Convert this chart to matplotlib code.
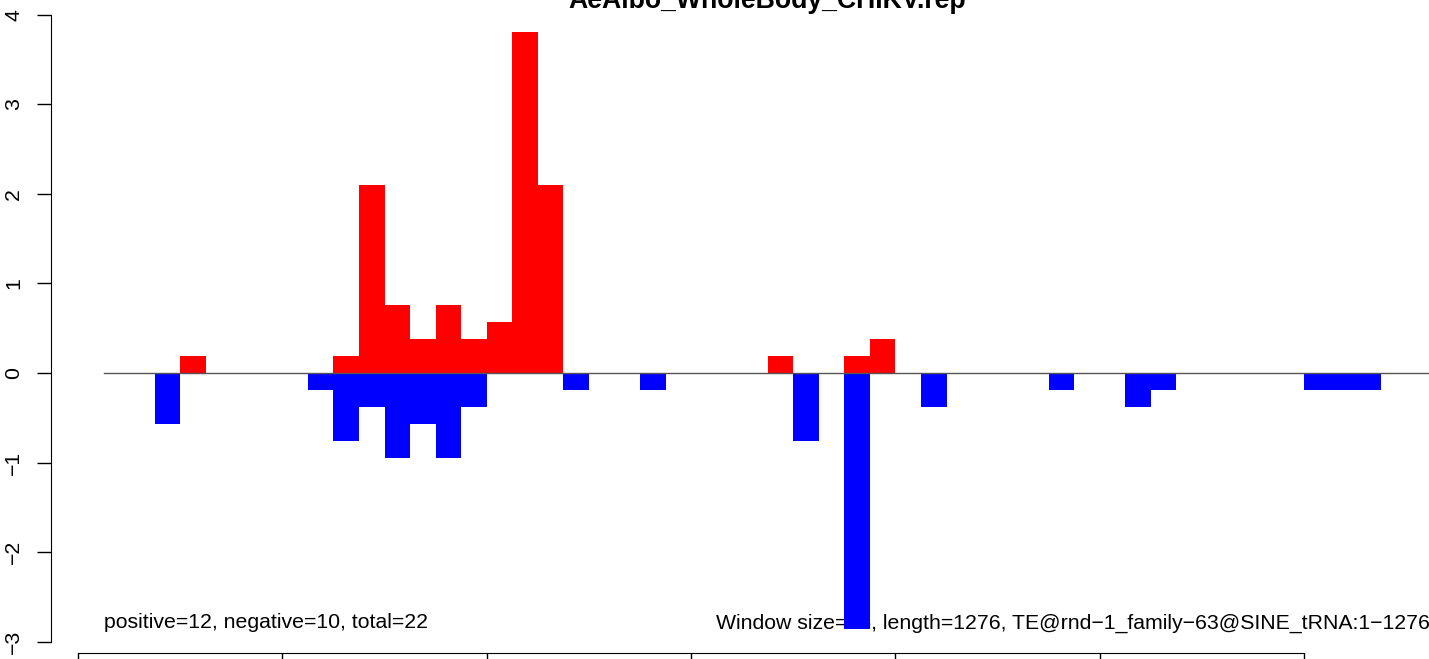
import numpy as np
import matplotlib
matplotlib.use('Agg')
import matplotlib.pyplot as plt

plt.rcParams['font.family'] = ['Liberation Sans', 'DejaVu Sans']

title = "AeAlbo_WholeBody_CHIKV.rep"
window = 25

# window start (bp) and value
red_start = [100, 250, 275, 300, 325, 350, 375, 400, 425, 450, 675, 750, 775]
red_val = [0.19, 0.19, 2.10, 0.76, 0.38, 0.76, 0.38, 0.57, 3.81, 2.10, 0.19, 0.19, 0.38]

blue_start = [75, 225, 250, 275, 300, 325, 350, 375, 475, 550, 700, 750, 825,
              950, 1025, 1050, 1200, 1225, 1250]
blue_val = [-0.57, -0.19, -0.76, -0.38, -0.95, -0.57, -0.95, -0.38, -0.19, -0.19,
            -0.76, -2.86, -0.38, -0.19, -0.38, -0.19, -0.19, -0.19, -0.19]

yticks = [-3, -2, -1, 0, 1, 2, 3, 4]
xticks = [0, 200, 400, 600, 800, 1000, 1200]

left_txt = "positive=12, negative=10, total=22"
right_txt = "Window size=25, length=1276, TE@rnd\u22121_family\u221263@SINE_tRNA:1\u22121276"

fs = 15.3

W, H = 1429, 659
fig = plt.figure(figsize=(W / 100, H / 100), dpi=100)

# plot region in pixels (runs past the right/top edge like the original)
px_l, px_r, px_t, px_b = 51, 1483, -20, 653
ax = fig.add_axes([px_l / W, (H - px_b) / H, (px_r - px_l) / W, (px_b - px_t) / H])
ax.set_xlim(-26.4, 1375)
ax.set_ylim(-3.126, 4.388)

ax.text(25, -2.79, left_txt, fontsize=fs, va='center', ha='left', zorder=1)
ax.text(624, -2.79, right_txt, fontsize=fs, va='center', ha='left', zorder=1)

ax.bar(red_start, red_val, width=window, align='edge', color='#ff0000', linewidth=0, zorder=2)
ax.bar(blue_start, blue_val, width=window, align='edge', color='#0000ff', linewidth=0, zorder=2)
ax.plot([25, 1330], [0, 0], color='#555555', lw=1, zorder=3)

for s in ['top', 'right']:
    ax.spines[s].set_visible(False)
ax.spines['left'].set_bounds(-3, 4)
ax.spines['bottom'].set_bounds(0, 1200)
ax.set_yticks(yticks)
ax.set_yticklabels([str(t).replace('-', '\u2212') for t in yticks], rotation=90, va='center', fontsize=fs)
# x tick labels fall below the picture edge in the original
ax.set_xticks(xticks)
ax.set_xticklabels([])
ax.tick_params(length=10, width=1)
ax.tick_params(axis='y', pad=10)

fig.text((px_l + px_r) / 2 / W, 1 - 8 / H, title, ha='center', va='baseline',
         fontsize=19.2, fontweight='bold')

fig.savefig('out.png', dpi=100)
